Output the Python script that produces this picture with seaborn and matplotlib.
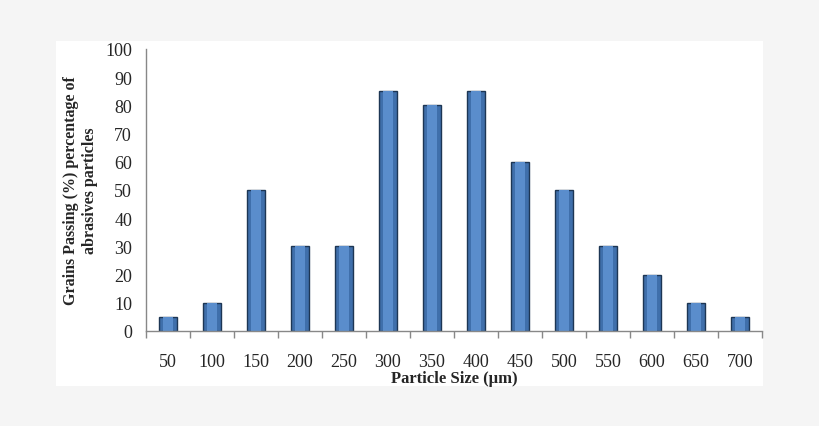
import matplotlib
matplotlib.use("Agg")
import matplotlib.pyplot as plt
import numpy as np
import pandas as pd
import seaborn as sns

# DATA
sizes = ["50", "100", "150", "200", "250", "300", "350", "400",
         "450", "500", "550", "600", "650", "700"]
passing = [5, 10, 50, 30, 30, 85, 80, 85, 60, 50, 30, 20, 10, 5]

df = pd.DataFrame({"size": sizes, "passing": passing})

sns.set_style("white")
plt.rcParams["font.family"] = ["Liberation Serif", "DejaVu Serif"]

fig = plt.figure(figsize=(8.2, 4.27), dpi=100)
fig.patch.set_facecolor("#f5f5f5")

# white chart area behind the plot
bg = fig.add_axes([56 / 820, 1 - 387 / 427, (763 - 56) / 820, (387 - 42) / 427], zorder=-1)
bg.set_facecolor("white")
bg.set_xticks([])
bg.set_yticks([])
for s in bg.spines.values():
    s.set_visible(False)

ax = fig.add_axes([146 / 820, 1 - 332 / 427, (762 - 146) / 820, (332 - 50) / 427])
ax.set_facecolor("none")

sns.barplot(data=df, x="size", y="passing", ax=ax, color="#3f6fab",
            edgecolor="#1d3654", linewidth=1.0, width=0.41, saturation=1)
# lighter stripe for a bevelled look
sns.barplot(data=df, x="size", y="passing", ax=ax, color="#5a8dcc",
            linewidth=0, width=0.22, saturation=1)

ax.set_ylim(0, 100)
ax.set_xlim(-0.5, len(sizes) - 0.5)
ax.set_yticks(np.arange(0, 101, 10))
ax.set_xticks(np.arange(-0.5, len(sizes), 1), minor=True)
ax.tick_params(axis="x", which="major", length=0, pad=16, labelsize=13)
ax.tick_params(axis="x", which="minor", length=5, width=1, color="#888888", direction="out")
ax.tick_params(axis="y", length=5, width=1, color="#888888", direction="out", labelsize=13, pad=5)
ax.xaxis.set_tick_params(bottom=True, which="both")

for s in ["top", "right"]:
    ax.spines[s].set_visible(False)
for s in ["left", "bottom"]:
    ax.spines[s].set_color("#888888")
    ax.spines[s].set_linewidth(1)

ax.set_xlabel("Particle Size (\u00b5m)", fontsize=12, fontweight="bold", labelpad=0)
ax.set_ylabel("Grains Passing (%) percentage of\nabrasives particles", fontsize=11.5,
              fontweight="bold", labelpad=5, linespacing=1.3)

fig.savefig("out.png", dpi=100, facecolor=fig.get_facecolor())
